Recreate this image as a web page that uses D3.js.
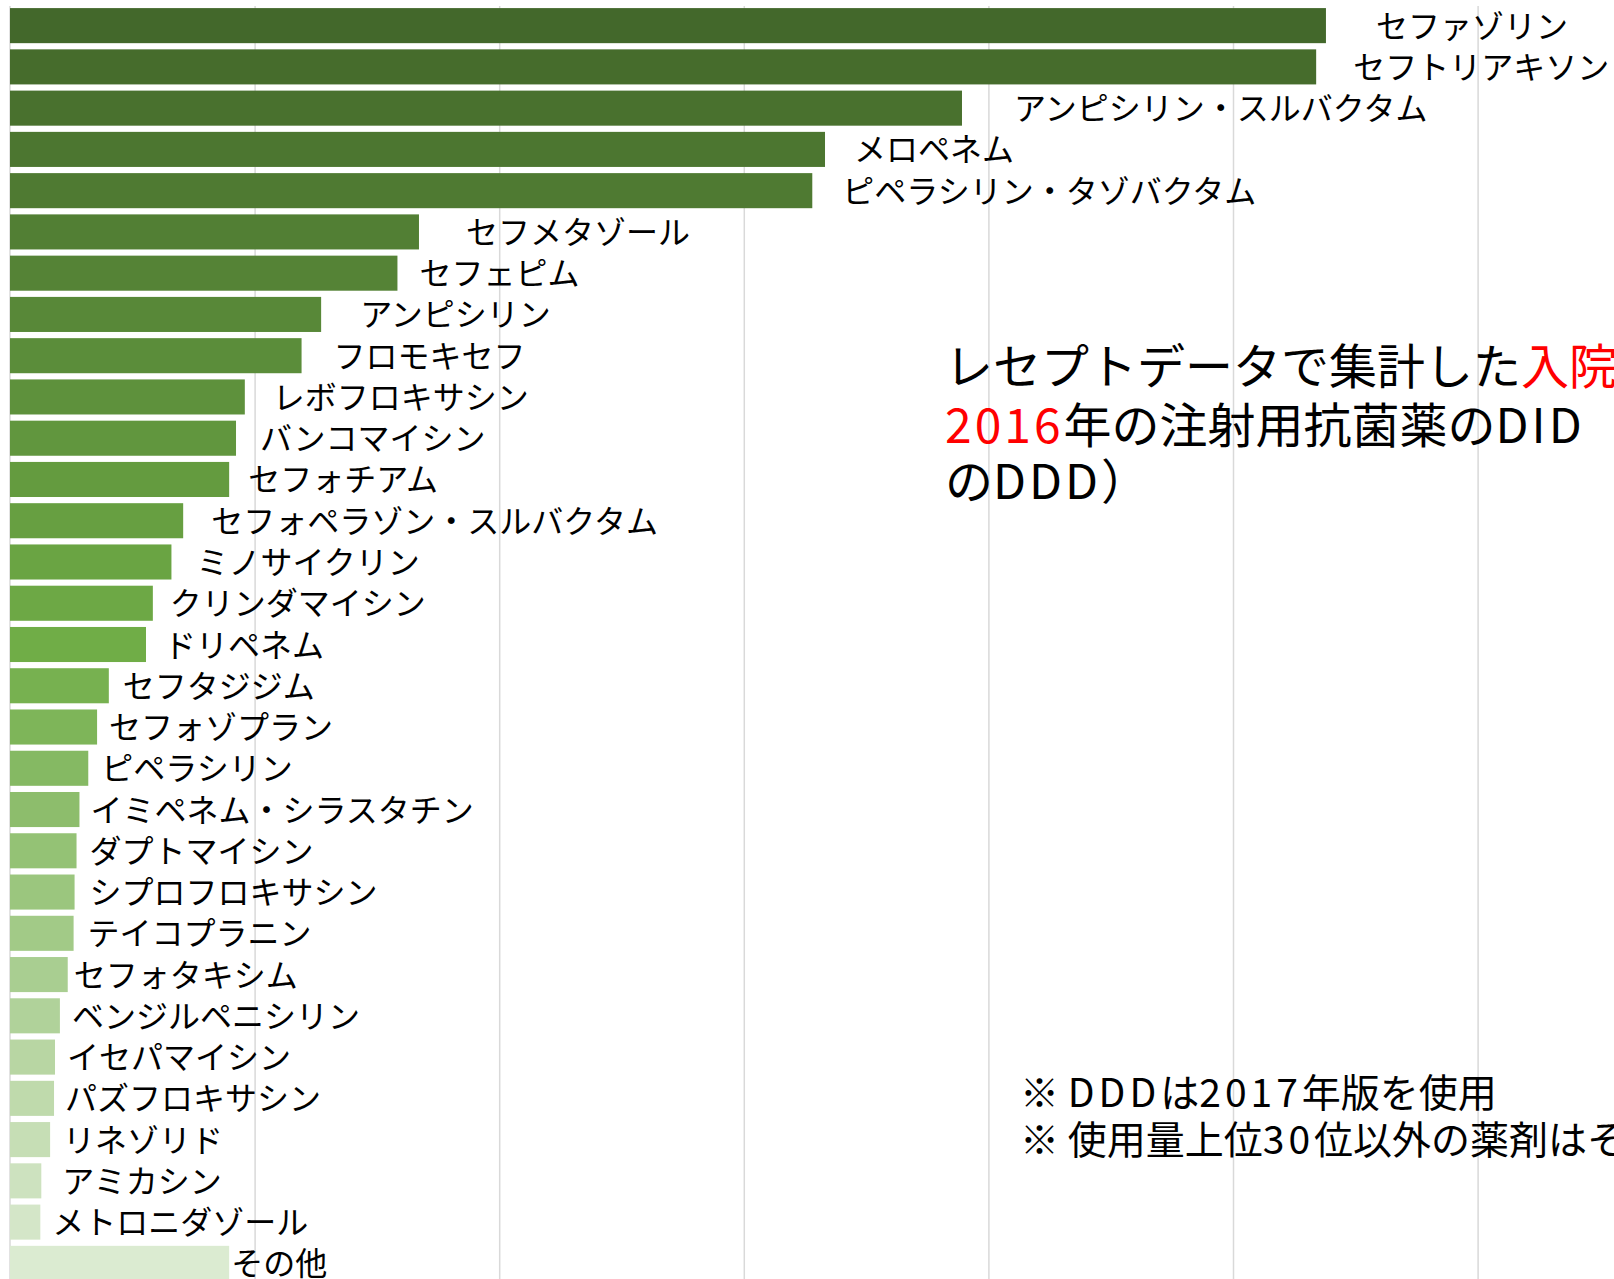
<!DOCTYPE html>
<html>
<head>
<meta charset="utf-8">
<script src="https://cdn.jsdelivr.net/npm/d3@7"></script>
<style>
  html, body { margin: 0; padding: 0; background: #ffffff; overflow: hidden; }
  svg { display: block; }
  text { font-family: "Noto Sans CJK JP", "Noto Sans", sans-serif; white-space: pre; }
</style>
</head>
<body>
<svg id="chart" width="1614" height="1279"></svg>
<script>
// ---- data ----
const categories = [
  "セファゾリン", "セフトリアキソン", "アンピシリン・スルバクタム", "メロペネム",
  "ピペラシリン・タゾバクタム", "セフメタゾール", "セフェピム", "アンピシリン",
  "フロモキセフ", "レボフロキサシン", "バンコマイシン", "セフォチアム",
  "セフォペラゾン・スルバクタム", "ミノサイクリン", "クリンダマイシン", "ドリペネム",
  "セフタジジム", "セフォゾプラン", "ピペラシリン", "イミペネム・シラスタチン",
  "ダプトマイシン", "シプロフロキサシン", "テイコプラニン", "セフォタキシム",
  "ベンジルペニシリン", "イセパマイシン", "パズフロキサシン", "リネゾリド",
  "アミカシン", "メトロニダゾール", "その他"
];
const values = [
  0.1345, 0.1335, 0.0973, 0.0833, 0.0820, 0.0418, 0.0396, 0.0318,
  0.0298, 0.0240, 0.0231, 0.0224, 0.0177, 0.0165, 0.0146, 0.0139,
  0.0101, 0.0089, 0.0080, 0.0071, 0.0068, 0.0066, 0.0065, 0.0059,
  0.0051, 0.0046, 0.0045, 0.0041, 0.0032, 0.0031, 0.0224
];
const gridTicks = [0.025, 0.05, 0.075, 0.1, 0.125, 0.15, 0.175];
const titleLines = [
  [["レセプトデータで集計した", "#000000"], ["入院", "#ff0000"]],
  [["2016", "#ff0000"], ["年の注射用抗菌薬のDID", "#000000"]],
  [["のDDD）", "#000000"]]
];
const notes = ["※ DDDは2017年版を使用", "※ 使用量上位30位以外の薬剤はその他として集計"];

// ---- layout (not data) ----
const W = 1614, H = 1279;
const labelGaps = [50, 37, 52, 29, 30, 47, 22, 39, 32, 28, 24, 19, 28, 25, 17, 18,
                   14, 12, 13, 11, 13, 15, 14, 6, 12, 12, 11, 13, 21, 12, 2];

const svg = d3.select("#chart");

const x = d3.scaleLinear().domain([0, 0.165]).range([10, 10 + 0.165 * 9784]);
const y = d3.scaleBand().domain(categories).range([5, 1284])
  .paddingInner(0.15).paddingOuter(0.075);

// colour ramp: darker shades → base Excel green → light tints
const base = d3.rgb("#70AD47");
function barColor(i) {
  const n = categories.length;
  const mid = 15;
  if (i <= mid) {
    const m = 0.6 + 0.4 * (i / mid);
    return d3.rgb(base.r * m, base.g * m, base.b * m).formatHex();
  }
  const t = (i - mid) / (n - 1 - mid) * 0.75;
  return d3.rgb(base.r + (255 - base.r) * t, base.g + (255 - base.g) * t, base.b + (255 - base.b) * t).formatHex();
}

// gridlines
const grid = svg.append("g").attr("class", "grid")
  .attr("transform", `translate(0,${H})`)
  .call(d3.axisBottom(x).tickValues(gridTicks).tickSize(-(H - 6)).tickFormat(""));
grid.select(".domain").remove();
grid.selectAll(".tick line").attr("stroke", "#d9d9d9").attr("stroke-width", 1.5);

// vertical axis line
const yAxis = svg.append("g").attr("transform", `translate(${x(0)},0)`)
  .call(d3.axisLeft(y).tickSize(0).tickFormat(""));
yAxis.select(".domain").attr("stroke", "#d9d9d9").attr("stroke-width", 1.5)
  .attr("d", `M0,6V${H}`);

// bars
svg.append("g").selectAll("rect")
  .data(categories)
  .join("rect")
  .attr("x", x(0))
  .attr("y", d => y(d))
  .attr("width", (d, i) => x(values[i]) - x(0))
  .attr("height", y.bandwidth())
  .attr("fill", (d, i) => barColor(i));

// category labels
svg.append("g").selectAll("text")
  .data(categories)
  .join("text")
  .attr("x", (d, i) => x(values[i]) + labelGaps[i])
  .attr("y", d => y(d) + y.bandwidth() / 2 - 2)
  .attr("dominant-baseline", "central")
  .attr("font-size", 32)
  .attr("fill", "#000")
  .text(d => d);

// helper: lay out a line as consecutive text runs; Latin letters / digits get
// extra spacing to mimic the wider Latin glyphs of the original font
function appendLine(parent, x0, y0, size, parts, latinSpacing) {
  let cx = x0;
  parts.forEach(([s, color]) => {
    s.split(/([A-Za-z0-9]+)/).filter(p => p.length).forEach(p => {
      const t = parent.append("text")
        .attr("x", cx).attr("y", y0)
        .attr("dominant-baseline", "central")
        .attr("font-size", size)
        .attr("fill", color)
        .attr("xml:space", "preserve")
        .text(p);
      if (/^[A-Za-z0-9]+$/.test(p)) t.attr("letter-spacing", latinSpacing);
      cx += t.node().getComputedTextLength();
    });
  });
}

// title annotation
const titleY = [363, 422, 478];
const titleG = svg.append("g");
titleLines.forEach((line, li) => appendLine(titleG, 945, titleY[li], 48, line, 3));

// notes
const noteY = [1090, 1137];
const noteG = svg.append("g");
notes.forEach((s, i) => appendLine(noteG, 1020, noteY[i], 39, [[s, "#000"]], 4));
</script>
</body>
</html>
